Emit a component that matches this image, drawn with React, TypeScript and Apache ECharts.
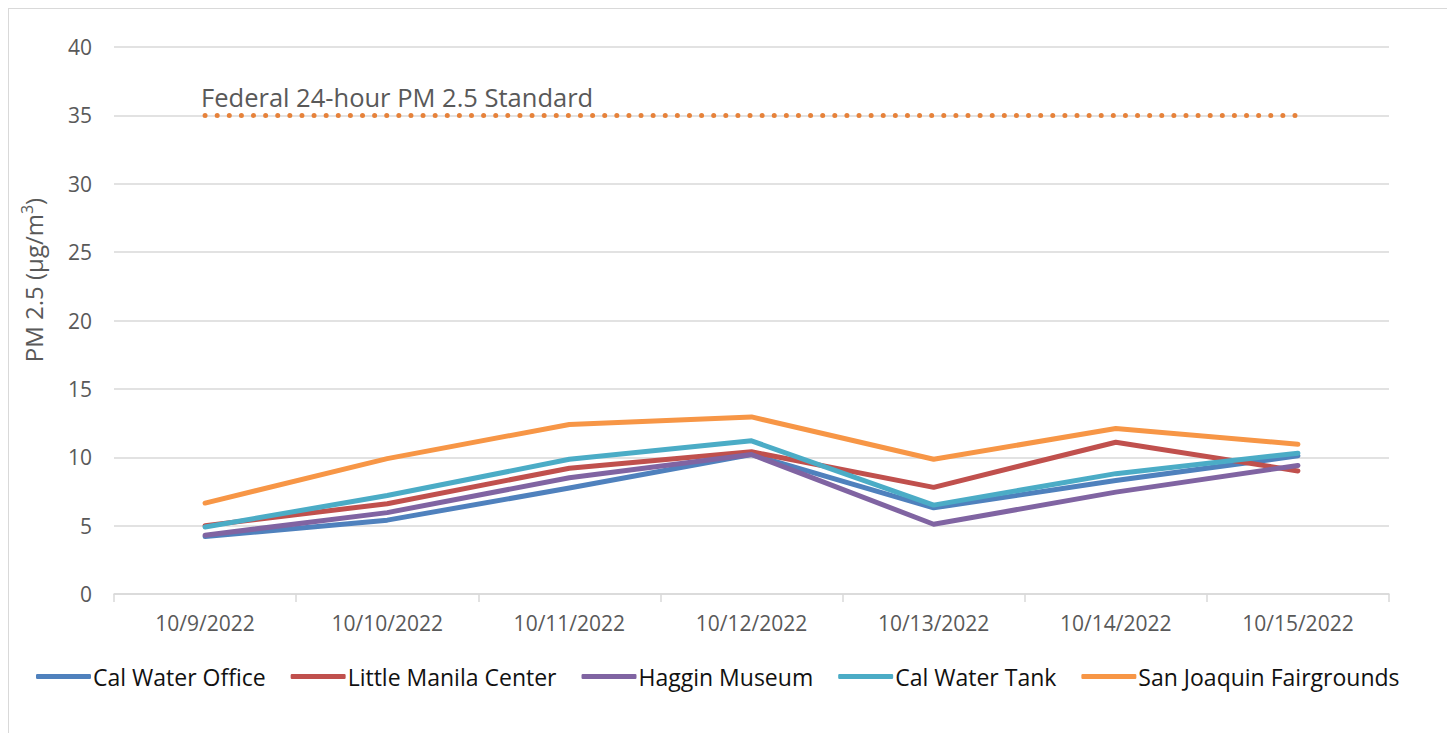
import React, { useEffect, useRef } from "react";
import * as echarts from "echarts";

const categories = ["10/9/2022", "10/10/2022", "10/11/2022", "10/12/2022", "10/13/2022", "10/14/2022", "10/15/2022"];
const calWaterOffice = [4.2, 5.4, 7.75, 10.2, 6.3, 8.3, 10.1];
const littleManila = [5.0, 6.6, 9.2, 10.4, 7.8, 11.1, 9.0];
const hagginMuseum = [4.3, 5.95, 8.5, 10.2, 5.1, 7.45, 9.4];
const calWaterTank = [4.9, 7.2, 9.85, 11.2, 6.5, 8.8, 10.3];
const fairgrounds = [6.65, 9.9, 12.4, 12.95, 9.85, 12.1, 10.95];
const standard = [35, 35, 35, 35, 35, 35, 35];
const standardLabel = "Federal 24-hour PM 2.5 Standard";

const seriesDefs = [
  { name: "Cal Water Office", data: calWaterOffice, color: "#4F81BD" },
  { name: "Little Manila Center", data: littleManila, color: "#C0504D" },
  { name: "Haggin Museum", data: hagginMuseum, color: "#8064A2" },
  { name: "Cal Water Tank", data: calWaterTank, color: "#4BACC6" },
  { name: "San Joaquin Fairgrounds", data: fairgrounds, color: "#F79646" },
];

const FONT = "'Open Sans', 'Liberation Sans', sans-serif";

export default function App() {
  const ref = useRef<HTMLDivElement>(null);
  useEffect(() => {
    if (!ref.current) return;
    const chart = echarts.init(ref.current, null, { renderer: "svg" });
    chart.setOption({
      animation: false,
      grid: { left: 105, top: 38, width: 1275, height: 547, containLabel: false },
      xAxis: {
        type: "category",
        data: categories,
        boundaryGap: true,
        axisLine: { lineStyle: { color: "#d9d9d9", width: 1.5 } },
        axisTick: { show: true, length: 8, lineStyle: { color: "#d9d9d9", width: 1.5 } },
        axisLabel: { color: "#595959", fontSize: 21, fontFamily: FONT, margin: 18 },
      },
      yAxis: {
        type: "value",
        min: 0,
        max: 40,
        interval: 5,
        axisLine: { show: false },
        axisTick: { show: false },
        axisLabel: { color: "#595959", fontSize: 21, fontFamily: FONT, margin: 22 },
        splitLine: { lineStyle: { color: "#d9d9d9", width: 1.5 } },
      },
      graphic: [
        {
          type: "text",
          x: 24,
          y: 271,
          rotation: Math.PI / 2,
          style: {
            text: "PM 2.5 (μg/m{sup|3})",
            fill: "#595959",
            font: "24px 'Open Sans', sans-serif",
            align: "center",
            verticalAlign: "middle",
            rich: {
              sup: { fontSize: 16, fill: "#595959", verticalAlign: "top", padding: [0, 0, 12, 0], fontFamily: "Open Sans" },
            },
          },
        },
      ],
      legend: {
        top: 651,
        left: 22,
        icon: "roundRect",
        itemWidth: 55,
        itemHeight: 5,
        itemGap: 25,
        textStyle: { color: "#111", fontSize: 23, fontFamily: FONT, padding: [0, 0, 0, -3] },
        data: seriesDefs.map((s) => s.name),
      },
      series: [
        ...seriesDefs.map((s) => ({
          name: s.name,
          type: "line",
          data: s.data,
          symbol: "none",
          color: s.color,
          lineStyle: { color: s.color, width: 5, cap: "round", join: "round" },
        })),
        {
          name: "Standard",
          type: "line",
          data: standard,
          symbol: "none",
          color: "#E6823A",
          lineStyle: { color: "#E6823A", width: 5, type: [0.01, 12.1], cap: "round" },
          markPoint: {
            symbol: "circle",
            symbolSize: 1,
            itemStyle: { color: "transparent" },
            data: [
              {
                coord: [0, standard[0]],
                label: {
                  show: true,
                  formatter: standardLabel,
                  position: "inside",
                  align: "left",
                  verticalAlign: "bottom",
                  offset: [-4, -5],
                  color: "#595959",
                  fontSize: 25.5,
                  fontFamily: FONT,
                },
              },
            ],
          },
        },
      ],
    });
    return () => chart.dispose();
  }, []);
  return (
    <div style={{ border: "1px solid #d9d9d9", width: 1444, height: 740, boxSizing: "content-box" }}>
      <div ref={ref} style={{ width: 1444, height: 740 }} />
    </div>
  );
}
